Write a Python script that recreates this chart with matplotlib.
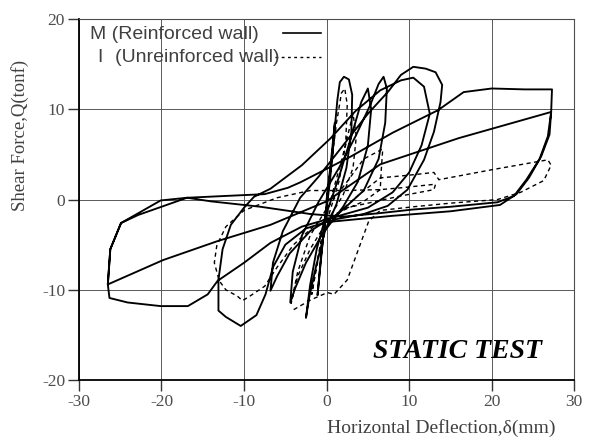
import matplotlib
matplotlib.use('Agg')
import matplotlib.pyplot as plt

plt.rcParams['axes.unicode_minus'] = False

# reinforced wall (M) - displacement (mm) / shear force (tonf), traced in loading order
m_x = [0.0, 0.5, 1.0, 0.7, 0.1, -0.4, -1.1, -0.7, -0.2,
       0.4, 0.9, 1.3, 1.6, 2.1, 2.7, 3.1, 3.0, 2.4, 1.2,
       -0.2, -1.3, -2.1, -2.5, -2.0, -1.2, 0.0,
       1.5, 3.0, 4.2, 5.0, 5.4, 5.0, 3.8, 2.0,
       -0.5, -2.5, -3.8, -4.4, -4.1, -3.0, -1.0,
       1.5, 3.5, 5.3, 6.3, 6.9, 7.3, 7.1, 6.3, 4.5,
       1.5, -2.0, -4.5, -6.0, -6.8, -6.5, -5.3, -3.2,
       -1.0, 2.0, 5.0, 7.5, 9.0, 10.5, 12.0, 13.2, 14.0, 13.8, 13.0, 11.8, 9.8, 7.4, 4.5, 1.0,
       -2.5, -5.0, -6.5, -7.4, -8.5, -10.4, -12.2, -13.1, -13.1, -13.1, -12.6, -11.6, -10.0, -8.8,
       -6.8, -3.0, 0.5, 3.5, 6.5, 9.0, 10.5, 11.8, 12.5, 11.5, 10.0, 8.0, 5.0, 1.5,
       -3.0, -6.8, -10.0, -13.2,
       -14.4, -16.8, -20.1, -24.1, -26.3, -26.5,
       -26.2, -24.9, -20.1, -16.9, -7.5, -4.7, -3.2, 3.0, 8.0, 13.5, 16.6, 20.0, 24.0, 27.3, 27.2,
       26.8, 25.8, 24.2, 22.7, 20.7, 15.0, 10.5, 6.5, 2.0, -2.0, -8.0, -14.0, -16.9,
       -22.8, -24.9, -26.2, -26.5,
       -19.8, -13.2, -6.8, 0.0, 6.5, 16.0, 27.2,
       27.0, 26.0, 24.5, 23.0, 21.0, 15.0, 8.0, 0.0]
m_y = [0.0, 4.0, 8.5, 5.0, 0.5, -4.0, -10.6, -6.5, -2.5,
       2.0, 7.0, 11.0, 13.0, 13.6, 13.3, 11.6, 7.5, 3.5, -0.5,
       -3.5, -7.5, -10.8, -13.1, -9.5, -5.5, -1.5,
       2.5, 7.0, 10.8, 12.3, 10.0, 6.0, 2.0, -0.8,
       -3.8, -7.0, -9.8, -11.4, -8.0, -4.0, -0.3,
       3.5, 7.0, 10.5, 12.8, 13.6, 12.3, 8.5, 4.5, 1.0,
       -1.5, -3.5, -6.0, -8.5, -10.1, -7.0, -3.5, 0.2,
       2.5, 6.0, 9.5, 12.0, 13.8, 14.7, 14.5, 14.1, 12.7, 10.8, 7.5, 4.4, 1.1, -0.7, -1.6, -2.2,
       -3.2, -5.0, -7.5, -10.5, -12.8, -14.0, -13.0, -12.3, -10.3, -8.9, -5.5, -2.8, -0.9, 0.3,
       1.2, 3.8, 6.8, 9.8, 12.1, 13.2, 13.5, 12.5, 9.5, 6.0, 3.0, 0.8, -0.9, -1.8,
       -3.0, -4.8, -7.0, -9.0,
       -10.5, -11.8, -11.8, -11.4, -10.9, -9.4,
       -5.5, -2.6, -0.1, 0.2, 0.6, 1.3, 1.9, 4.8, 7.4, 9.9, 11.9, 12.3, 12.2, 12.2, 9.7,
       7.0, 4.5, 2.2, 0.4, -0.3, -0.8, -1.1, -1.5, -1.9, -1.6, -0.8, -0.2, 0.2,
       -1.7, -2.6, -5.5, -9.4,
       -6.7, -4.6, -2.8, -0.2, 3.9, 6.8, 9.7,
       7.2, 4.8, 2.4, 0.6, -0.6, -1.3, -1.8, -2.5]

# unreinforced wall (I)
i_x = [0.0, 0.6, 1.2, 1.8, 2.2, 2.5, 2.3, 1.5, 0.5, -0.5, -1.2, -1.8, -1.2, -0.3,
       0.8, 2.0, 3.2, 3.6, 3.2, 2.0, 0.0, -2.0, -3.5, -4.3, -3.5, -2.0, 0.0,
       2.5, 4.5, 6.8, 6.6, 6.5, 4.5, 2.0, -1.0, -4.0, -6.0, -7.5, -9.3, -10.2, -10.8,
       -12.2, -13.0, -13.6, -13.3, -12.2, -10.0, -6.0, -2.0, 2.0, 6.5, 9.0, 13.2, 13.0,
       9.0, 5.5, 2.0, 4.0, 6.5, 10.0, 13.0, 13.6, 20.0, 26.8, 27.2, 26.3, 23.5, 20.7,
       15.0, 10.5, 6.5, 5.1, 3.7, 2.5, 0.9, 0.1, -1.9, -4.0]
i_y = [0.0, 4.0, 8.5, 11.8, 12.3, 10.5, 6.0, 2.0, -1.0, -4.0, -7.5, -10.5, -7.0, -3.0,
       1.0, 5.0, 9.5, 7.0, 3.5, 0.5, -2.5, -5.5, -8.5, -11.5, -8.0, -4.0, -1.0,
       2.0, 4.5, 5.6, 3.0, 1.1, -0.2, -1.2, -2.5, -5.0, -7.5, -9.6, -10.7, -11.2, -10.7,
       -10.0, -9.0, -7.0, -5.1, -3.0, -1.2, 0.2, 1.0, 1.0, 1.1, 1.3, 1.7, 1.1,
       0.4, -0.3, -1.0, 0.6, 2.4, 2.7, 3.0, 2.2, 3.3, 4.4, 3.8, 2.1, 0.8, 0.0,
       -0.4, -0.8, -1.2, -2.4, -5.9, -8.9, -10.5, -10.3, -11.1, -12.2]

x_ticks = [-30, -20, -10, 0, 10, 20, 30]
y_ticks = [-20, -10, 0, 10, 20]

serif = ['Liberation Serif', 'DejaVu Serif']
sans = ['Liberation Sans', 'DejaVu Sans']
dash = (0, (3, 2.5))

fig = plt.figure(figsize=(5.89, 4.41), dpi=100)
ax = fig.add_axes([0.134, 0.138, 0.841, 0.819])

ax.plot(m_x, m_y, color='black', lw=1.35, solid_joinstyle='round')
ax.plot(i_x, i_y, color='black', lw=1.0, linestyle=dash)

ax.set_xlim(-30, 30)
ax.set_ylim(-20, 20)
ax.set_xticks(x_ticks)
ax.set_yticks(y_ticks)
ax.grid(True, color='0.35', lw=0.7)
ax.tick_params(direction='out', length=8, width=1.0, color='0.2', pad=2,
               labelsize=12.5, labelcolor='0.3')
for lab in ax.get_xticklabels() + ax.get_yticklabels():
    lab.set_family(serif)
for side in ['left', 'bottom']:
    ax.spines[side].set_linewidth(1.3)
for side in ['top', 'right']:
    ax.spines[side].set_linewidth(0.8)
    ax.spines[side].set_color('0.3')

ax.text(0.731, -0.133, 'Horizontal Deflection,\u03b4(mm)', transform=ax.transAxes,
        ha='center', va='center', fontsize=14, family=serif, color='0.25')
fig.text(0.034, 0.694, 'Shear Force,Q(tonf)', rotation=90, ha='center', va='center',
         fontsize=13.5, family=serif, color='0.25')

ax.text(15.9, -16.8, 'STATIC TEST', ha='center', va='center', fontsize=20,
        family=serif, fontweight='bold', fontstyle='italic')

# legend, drawn by hand so the keys sit right of the labels
tr = ax.transAxes
ax.text(0.022, 0.958, 'M (Reinforced wall)', transform=tr, ha='left', va='center',
        fontsize=14, family=sans, color='0.25')
ax.text(0.036, 0.892, 'I', transform=tr, ha='left', va='center',
        fontsize=14, family=sans, color='0.25')
ax.text(0.072, 0.892, '(Unreinforced wall)', transform=tr, ha='left', va='center',
        fontsize=14, family=sans, color='0.25')
ax.plot([0.412, 0.489], [0.961, 0.961], transform=tr, color='black', lw=1.2)
ax.plot([0.396, 0.489], [0.895, 0.895], transform=tr, color='black', lw=1.0,
        linestyle=(0, (2, 2.5)))

fig.savefig('out.png', dpi=100)
